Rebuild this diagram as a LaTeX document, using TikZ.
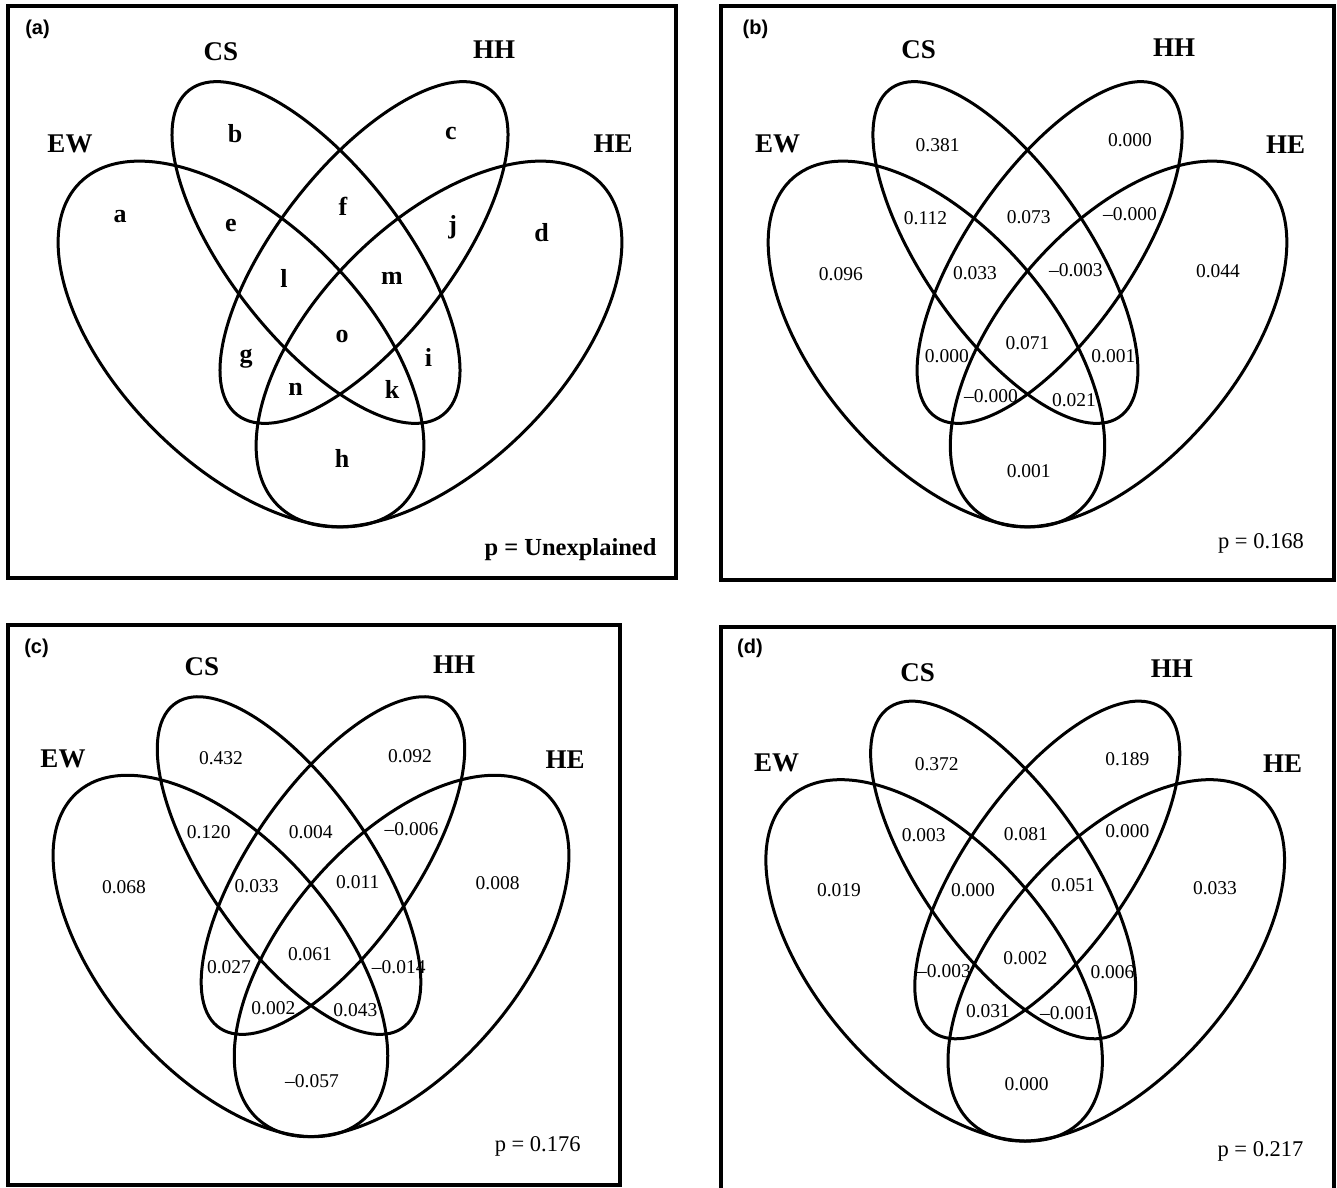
\documentclass[tikz,border=0pt]{standalone}
\usepackage{fontspec}
\setmainfont{Liberation Serif}
\newfontfamily\tagfont{Liberation Sans}
\usepackage{tikz}

\begin{document}
\begin{tikzpicture}[
  x=1pt, y=-1pt,
  panel/.style  = {draw=black, line width=4.2pt},
  ring/.style   = {draw=black, line width=3pt},
  setlbl/.style = {inner sep=0pt, font=\fontsize{27}{30}\selectfont\bfseries},
  letter/.style = {inner sep=0pt, font=\fontsize{26}{30}\selectfont\bfseries},
  cell/.style   = {inner sep=0pt, font=\fontsize{19.5}{22}\selectfont},
  pval/.style   = {inner sep=0pt, font=\fontsize{22.5}{26}\selectfont},
  tag/.style    = {inner sep=0pt, font=\tagfont\fontsize{20}{24}\selectfont\bfseries},
  venn/.pic = {
    % EW, HE outer ellipses; CS, HH inner ones
    \draw[ring, shift={(-99,338)},  rotate=-45] (0,0) ellipse [x radius=228pt, y radius=122pt];
    \draw[ring, shift={(99,338)},   rotate=45]  (0,0) ellipse [x radius=228pt, y radius=122pt];
    \draw[ring, shift={(-24,246.5)}, rotate=-52] (0,0) ellipse [x radius=206pt, y radius=86.5pt];
    \draw[ring, shift={(24,246.5)},  rotate=52]  (0,0) ellipse [x radius=206pt, y radius=86.5pt];
  }
]

\fill[white] (0,0) rectangle (1337,1187);
\useasboundingbox (0,0) rectangle (1337,1187);

%── Panel (a) ────────────────────────────────────────────────────
\draw[panel] (8,6) rectangle (676,578);
\pic at (340,6) {venn};
\node[tag]    (a-tag) at (37.5,29)  {(a)};
\node[setlbl] (a-EW)  at (70,144)   {EW};
\node[setlbl] (a-CS)  at (221,52)   {CS};
\node[setlbl] (a-HH)  at (494,50)   {HH};
\node[setlbl] (a-HE)  at (613,144)  {HE};
\node[letter] (a-a) at (120,216.5) {a};
\node[letter] (a-b) at (235,133.7) {b};
\node[letter] (a-c) at (451,133.7) {c};
\node[letter] (a-d) at (541.6,233) {d};
\node[letter] (a-e) at (231,225)   {e};
\node[letter] (a-f) at (343,206)   {f};
\node[letter] (a-j) at (452.8,227) {j};
\node[letter] (a-l) at (284,278.6) {l};
\node[letter] (a-m) at (392,278.6) {m};
\node[letter] (a-o) at (342,336)   {o};
\node[letter] (a-g) at (246,358.7) {g};
\node[letter] (a-i) at (428.6,357) {i};
\node[letter] (a-n) at (295.5,389) {n};
\node[letter] (a-k) at (392,389)   {k};
\node[letter] (a-h) at (342,458)   {h};
\node[letter, font=\fontsize{24.5}{28}\selectfont\bfseries] (a-p) at (570.5,550) {p = Unexplained};

%── Panel (b) ────────────────────────────────────────────────────
\draw[panel] (721,6) rectangle (1334,580);
\pic[xscale=0.92] at (1027.5,6) {venn};
\node[tag]    (b-tag) at (755.5,29)   {(b)};
\node[setlbl] (b-EW)  at (777.5,144)  {EW};
\node[setlbl] (b-CS)  at (918.6,50)   {CS};
\node[setlbl] (b-HH)  at (1174,48)    {HH};
\node[setlbl] (b-HE)  at (1285.6,145) {HE};
\node[cell] (b-a) at (840.8,274)  {0.096};
\node[cell] (b-b) at (937.6,145)  {0.381};
\node[cell] (b-c) at (1130,140)   {0.000};
\node[cell] (b-d) at (1218,271)   {0.044};
\node[cell] (b-e) at (925.5,218.4){0.112};
\node[cell] (b-f) at (1028.7,217.6){0.073};
\node[cell] (b-j) at (1130,213.8) {–0.000};
\node[cell] (b-l) at (975,272.7)  {0.033};
\node[cell] (b-m) at (1075.9,270) {–0.003};
\node[cell] (b-o) at (1027.5,342.8){0.071};
\node[cell] (b-g) at (946.8,356)  {0.000};
\node[cell] (b-i) at (1113.4,356) {0.001};
\node[cell] (b-n) at (991,396)    {–0.000};
\node[cell] (b-k) at (1074,400)   {0.021};
\node[cell] (b-h) at (1028.7,471) {0.001};
\node[pval] (b-p) at (1261,543.7) {p = 0.168};

%── Panel (c) ────────────────────────────────────────────────────
\draw[panel] (8,625) rectangle (620,1185);
\pic[xscale=0.915, yscale=0.988] at (311,622) {venn};
\node[tag]    (c-tag) at (36.5,648.5) {(c)};
\node[setlbl] (c-EW)  at (63,758.5)   {EW};
\node[setlbl] (c-CS)  at (202,666.8)  {CS};
\node[setlbl] (c-HH)  at (454,665)    {HH};
\node[setlbl] (c-HE)  at (565,759.6)  {HE};
\node[cell] (c-a) at (124,886.9)   {0.068};
\node[cell] (c-b) at (221,758.5)   {0.432};
\node[cell] (c-c) at (410,756)     {0.092};
\node[cell] (c-d) at (497.6,883.2) {0.008};
\node[cell] (c-e) at (208.7,831.9) {0.120};
\node[cell] (c-f) at (310.8,831.9) {0.004};
\node[cell] (c-j) at (411.5,829.3) {–0.006};
\node[cell] (c-l) at (256.6,885.8) {0.033};
\node[cell] (c-m) at (357.7,882)   {0.011};
\node[cell] (c-o) at (310,954)     {0.061};
\node[cell] (c-g) at (229,967.5)   {0.027};
\node[cell] (c-i) at (398.7,967.5) {–0.014};
\node[cell] (c-n) at (273.4,1007.9){0.002};
\node[cell] (c-k) at (355.4,1010.4){0.043};
\node[cell] (c-h) at (312,1081)    {–0.057};
\node[pval] (c-p) at (537.7,1146)  {p = 0.176};

%── Panel (d) ────────────────────────────────────────────────────
\draw[panel] (721,627) rectangle (1334,1195);
\pic[xscale=0.92, yscale=0.988] at (1025.2,626.4) {venn};
\node[tag]    (d-tag) at (750,648.6)    {(d)};
\node[setlbl] (d-EW)  at (776.5,762.7)  {EW};
\node[setlbl] (d-CS)  at (917.7,672.6)  {CS};
\node[setlbl] (d-HH)  at (1171.8,668.9) {HH};
\node[setlbl] (d-HE)  at (1282.7,763.8) {HE};
\node[cell] (d-a) at (839,890.4)    {0.019};
\node[cell] (d-b) at (936.7,763.8)  {0.372};
\node[cell] (d-c) at (1127.4,759)   {0.189};
\node[cell] (d-d) at (1215,887.8)   {0.033};
\node[cell] (d-e) at (923.7,835.2)  {0.003};
\node[cell] (d-f) at (1025.8,834.5) {0.081};
\node[cell] (d-j) at (1127.4,831.5) {0.000};
\node[cell] (d-l) at (973,889.7)    {0.000};
\node[cell] (d-m) at (1073,885.3)   {0.051};
\node[cell] (d-o) at (1025.4,957.8) {0.002};
\node[cell] (d-g) at (944,971.4)    {–0.003};
\node[cell] (d-i) at (1112.5,972.5) {0.006};
\node[cell] (d-n) at (988,1011)     {0.031};
\node[cell] (d-k) at (1067,1013)    {–0.001};
\node[cell] (d-h) at (1026.6,1084)  {0.000};
\node[pval] (d-p) at (1260.5,1151)  {p = 0.217};

\end{tikzpicture}
\end{document}
